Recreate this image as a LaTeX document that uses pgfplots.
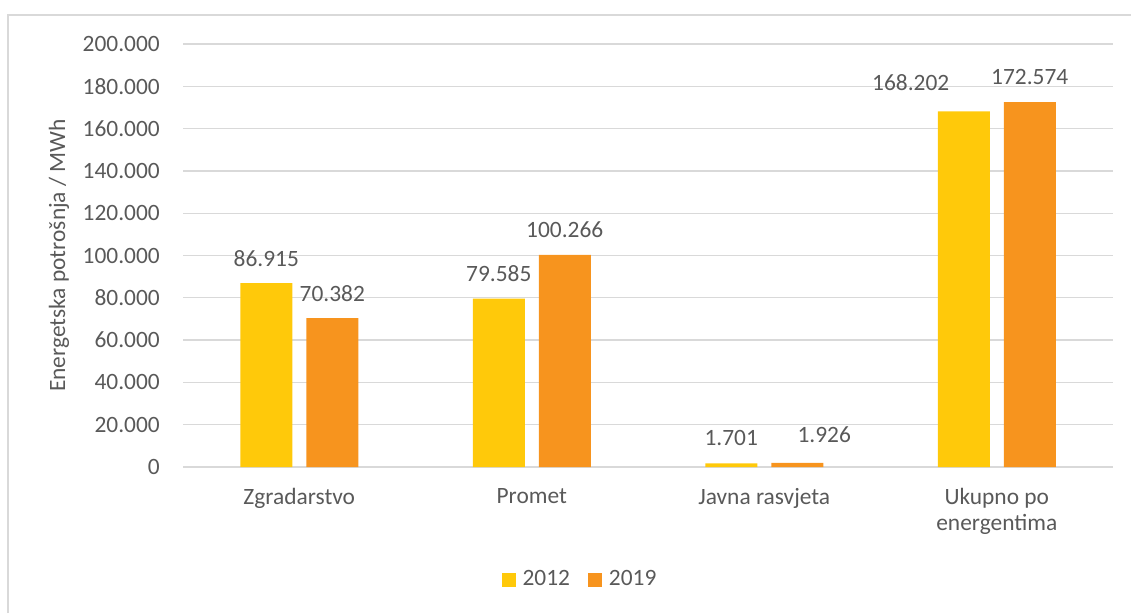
\documentclass[border=0pt]{standalone}
\usepackage{pgfplots}
\usepackage{pgfplotstable}
\pgfplotsset{compat=1.18}
\usepackage{fontspec}
\setmainfont{Carlito}
\definecolor{cY}{HTML}{FFC90A}
\definecolor{cO}{HTML}{F7941E}
\definecolor{txt}{HTML}{595959}
\definecolor{gridc}{HTML}{D9D9D9}
\pgfplotsset{/pgfplots/ybar legend/.style={/pgfplots/legend image code/.code={\fill[##1] (0pt,-7pt) rectangle (14pt,7pt);}}}
\pgfplotstableread{
x y label dx dy
0 86915 86.915 0 25
1 79585 79.585 0 25
2 1701 1.701 0 25
3 168202 168.202 -53 29
}\dataA
\pgfplotstableread{
x y label dx dy
0 70382 70.382 0 25
1 100266 100.266 0 25
2 1926 1.926 27 28
3 172574 172.574 0 25
}\dataB
\begin{document}
\fontsize{23.4}{27}\selectfont
\begin{tikzpicture}[x=1pt,y=1pt]
\useasboundingbox (0pt,0pt) rectangle (1131pt,-613pt);
\draw[gridc, line width=1.5pt] (8pt,-613pt) -- (8pt,-15pt) -- (1131pt,-15pt);
\begin{axis}[
  at={(183pt,-467pt)}, anchor=south west,
  scale only axis, width=930pt, height=423pt,
  xmin=-0.5, xmax=3.5, ymin=0, ymax=200000,
  ybar=14pt, bar width=52pt,
  axis line style={draw=none},
  tick style={draw=none}, major tick length=0pt,
  ymajorgrids, major grid style={gridc, line width=1.3pt},
  scaled y ticks=false,
  ytick={0,20000,40000,60000,80000,100000,120000,140000,160000,180000,200000},
  yticklabels={0,20.000,40.000,60.000,80.000,100.000,120.000,140.000,160.000,180.000,200.000},
  yticklabel style={anchor=east, inner sep=0pt, xshift=-23pt, text=txt},
  xtick={0,1,2,3},
  xticklabels={Zgradarstvo, Promet, Javna rasvjeta, {Ukupno po\\energentima}},
  xticklabel style={align=center, anchor=north, inner sep=0pt, yshift=-21pt, text=txt, font=\fontsize{23.4}{26}\selectfont},
  ylabel={Energetska potrošnja / MWh},
  ylabel style={at={(axis description cs:-0.1333,0.5)}, anchor=center, text=txt},
  legend style={at={(axis description cs:0.4258,-0.267)}, anchor=center, draw=none, fill=none, legend columns=2, text=txt,
    nodes={inner sep=0pt},
    /tikz/every odd column/.append style={column sep=7pt},
    /tikz/every even column/.append style={column sep=18pt}},
]
\addplot[fill=cY, draw=none,
  point meta=explicit symbolic, nodes near coords,
  visualization depends on={\thisrow{dx} \as \dx},
  visualization depends on={\thisrow{dy} \as \dy},
  every node near coord/.append style={anchor=center, xshift=\dx pt, yshift=\dy pt, inner sep=0pt, text=txt}]
  table[x=x, y=y, meta=label] {\dataA};
\addplot[fill=cO, draw=none,
  point meta=explicit symbolic, nodes near coords,
  visualization depends on={\thisrow{dx} \as \dx},
  visualization depends on={\thisrow{dy} \as \dy},
  every node near coord/.append style={anchor=center, xshift=\dx pt, yshift=\dy pt, inner sep=0pt, text=txt}]
  table[x=x, y=y, meta=label] {\dataB};
\legend{2012,2019}
\end{axis}
\end{tikzpicture}
\end{document}
